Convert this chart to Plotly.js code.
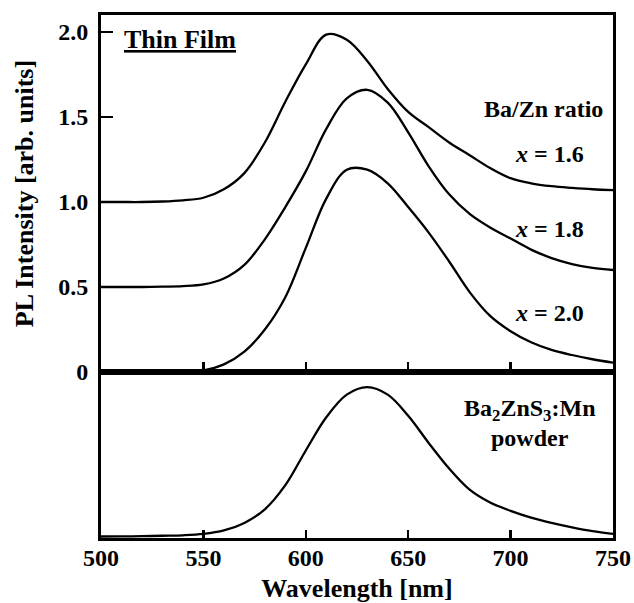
<!DOCTYPE html>
<html>
<head>
<meta charset="utf-8">
<script src="https://cdn.plot.ly/plotly-3.0.1.min.js"></script>
<style>html,body{margin:0;padding:0;background:#fff;}#chart{width:634px;height:603px;}</style>
</head>
<body>
<div id="chart"></div>
<script>
// Wavelength grid (nm)
const wavelength = [500,510,520,530,540,550,560,570,580,590,600,610,620,630,640,650,660,670,680,690,700,710,720,730,740,750];
// Thin-film PL spectra (offset as in the figure)
const film_x16 = [1.00,1.00,1.00,1.003,1.01,1.025,1.075,1.17,1.35,1.59,1.81,1.985,1.955,1.83,1.665,1.53,1.44,1.35,1.275,1.20,1.14,1.11,1.093,1.083,1.075,1.07];
const film_x18 = [0.50,0.50,0.50,0.502,0.505,0.515,0.55,0.63,0.78,0.97,1.18,1.43,1.61,1.66,1.585,1.41,1.21,1.045,0.93,0.85,0.785,0.72,0.67,0.635,0.612,0.60];
const film_x20 = [0,0,0,0.001,0.003,0.01,0.045,0.12,0.25,0.44,0.73,1.02,1.19,1.19,1.11,0.97,0.82,0.65,0.47,0.33,0.24,0.175,0.13,0.10,0.075,0.055];
// Powder reference spectrum
const powder = [0.01,0.011,0.012,0.015,0.018,0.027,0.05,0.10,0.19,0.35,0.58,0.80,0.95,1.0,0.95,0.81,0.63,0.46,0.32,0.235,0.18,0.135,0.10,0.07,0.045,0.027];

const xTickVals = [500,550,600,650,700,750];
const yTickVals = [0,0.5,1.0,1.5,2.0];
const yTickText = ['0','0.5','1.0','1.5','2.0'];

const FONT = 'Liberation Serif, Times New Roman, Times, serif';
const lineStyle = {color:'#000', width:2.3, shape:'spline', smoothing:1.0};

const traces = [
  {x:wavelength, y:film_x16, xaxis:'x2', yaxis:'y2', mode:'lines', line:lineStyle, name:'x = 1.6'},
  {x:wavelength, y:film_x18, xaxis:'x2', yaxis:'y2', mode:'lines', line:lineStyle, name:'x = 1.8'},
  {x:wavelength, y:film_x20, xaxis:'x2', yaxis:'y2', mode:'lines', line:lineStyle, name:'x = 2.0'},
  {x:wavelength, y:powder, xaxis:'x', yaxis:'y', mode:'lines', line:lineStyle, name:'powder'}
];

const splitFrac = 166/523;

const layout = {
  width:634, height:603,
  margin:{l:101, r:21, t:15, b:65, pad:0},
  paper_bgcolor:'#fff', plot_bgcolor:'#fff',
  showlegend:false,
  font:{family:FONT, color:'#000', size:24, weight:'bold'},
  xaxis:{
    domain:[0,1], anchor:'y', range:[500,750],
    tickvals:xTickVals, ticks:'inside', ticklen:8, tickwidth:2.5, tickcolor:'#000',
    showline:true, linewidth:3, linecolor:'#000', mirror:true,
    showgrid:false, zeroline:false,
    tickfont:{family:FONT, size:24, weight:'bold', color:'#000'},
    ticklabelstandoff:-4,
    title:{text:'Wavelength [nm]', font:{family:FONT, size:26, weight:'bold', color:'#000'}, standoff:12}
  },
  yaxis:{
    domain:[0,splitFrac], anchor:'x', range:[0,1.1],
    showticklabels:false, ticks:'',
    showline:true, linewidth:3, linecolor:'#000', mirror:true,
    showgrid:false, zeroline:false
  },
  xaxis2:{
    domain:[0,1], anchor:'y2', range:[500,750],
    tickvals:xTickVals, ticks:'inside', ticklen:10, tickwidth:2.5, tickcolor:'#000',
    showticklabels:false,
    showline:true, linewidth:3, linecolor:'#000', mirror:true,
    showgrid:false, zeroline:false
  },
  yaxis2:{
    domain:[splitFrac,1], anchor:'x2', range:[0,2.1],
    tickvals:yTickVals, ticktext:yTickText,
    ticks:'inside', ticklen:12, tickwidth:2.5, tickcolor:'#000',
    showline:true, linewidth:3, linecolor:'#000', mirror:true,
    showgrid:false, zeroline:false,
    tickfont:{family:FONT, size:24, weight:'bold', color:'#000'},
    ticklabelstandoff:5,
    title:{text:'PL Intensity [arb. units]', font:{family:FONT, size:26, weight:'bold', color:'#000'}, standoff:18}
  },
  annotations:[
    {xref:'x2', yref:'y2', x:538.6, y:1.955, text:'<u>Thin Film</u>', showarrow:false,
     font:{family:FONT, size:26, weight:'bold', color:'#000'}, xanchor:'center', yanchor:'middle'},
    {xref:'x2', yref:'y2', x:716.3, y:1.549, text:'Ba/Zn ratio', showarrow:false,
     font:{family:FONT, size:24, weight:'bold', color:'#000'}, xanchor:'center', yanchor:'middle'},
    {xref:'x2', yref:'y2', x:718.8, y:1.284, text:'<i>x</i> = 1.6', showarrow:false,
     font:{family:FONT, size:24, weight:'bold', color:'#000'}, xanchor:'center', yanchor:'middle'},
    {xref:'x2', yref:'y2', x:718.8, y:0.84, text:'<i>x</i> = 1.8', showarrow:false,
     font:{family:FONT, size:24, weight:'bold', color:'#000'}, xanchor:'center', yanchor:'middle'},
    {xref:'x2', yref:'y2', x:718.8, y:0.35, text:'<i>x</i> = 2.0', showarrow:false,
     font:{family:FONT, size:24, weight:'bold', color:'#000'}, xanchor:'center', yanchor:'middle'},
    {xref:'x', yref:'y', x:709.5, y:0.845, text:'Ba<sub>2</sub>ZnS<sub>3</sub>:Mn', showarrow:false,
     font:{family:FONT, size:24, weight:'bold', color:'#000'}, xanchor:'center', yanchor:'middle'},
    {xref:'x', yref:'y', x:709.5, y:0.665, text:'powder', showarrow:false,
     font:{family:FONT, size:24, weight:'bold', color:'#000'}, xanchor:'center', yanchor:'middle'}
  ]
};

Plotly.newPlot('chart', traces, layout, {displayModeBar:false, staticPlot:true});
</script>
</body>
</html>
